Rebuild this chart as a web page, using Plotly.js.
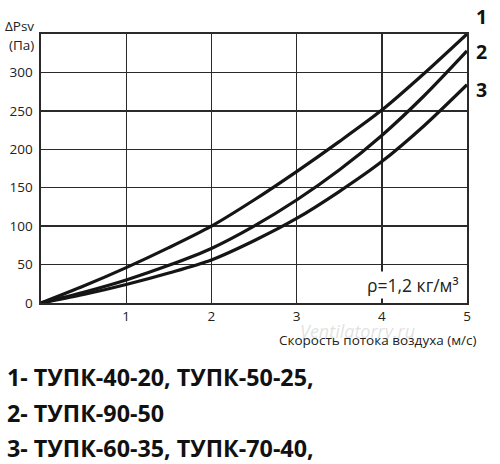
<!DOCTYPE html>
<html>
<head>
<meta charset="utf-8">
<script src="https://cdn.plot.ly/plotly-3.0.1.min.js"></script>
<style>html,body{margin:0;padding:0;background:#fff;}#chart{width:500px;height:464px;}</style>
</head>
<body>
<div id="chart"></div>
<script>
// Data
var velocity = [0, 0.5, 1, 1.5, 2, 2.5, 3, 3.5, 4, 4.5, 5];
var curve1 = [0, 22, 46, 72, 100, 134, 171, 210, 251, 299, 350];
var curve2 = [0, 14, 30, 49, 71, 100, 134, 173, 218, 270, 328];
var curve3 = [0, 11, 24, 39, 56, 81, 110, 145, 184, 231, 284];
var curveNames = ['1', '2', '3'];
var xTickVals = [1, 2, 3, 4, 5];
var yTickVals = [0, 50, 100, 150, 200, 250, 300];
var legendLines = ['1- ТУПК-40-20, ТУПК-50-25,', '2- ТУПК-90-50', '3- ТУПК-60-35, ТУПК-70-40,'];

var L = 40.7, R = 466.7, T = 34.3, B = 303.3;
var W = R - L, H = B - T;
function px(x) { return (x - L) / W; }
function py(y) { return (B - y) / H; }

var series = [curve1, curve2, curve3];
var traces = series.map(function (s, i) {
  return {
    x: velocity, y: s, type: 'scatter', mode: 'lines', name: curveNames[i],
    line: {color: '#151515', width: 3.2, shape: 'spline', smoothing: 0.8},
    hoverinfo: 'skip'
  };
});

var font = 'Open Sans, Liberation Sans, sans-serif';
var ann = [];
function txt(t, x, y, opts) {
  var a = {text: t, xref: 'paper', yref: 'paper', x: px(x), y: py(y), showarrow: false,
    xanchor: 'center', yanchor: 'middle', font: {family: font, size: 13, color: '#222'}};
  for (var k in opts) a[k] = opts[k];
  ann.push(a);
}
txt('<i>Ventilatorry.ru</i>', 357, 331, {font: {family: font, size: 18, color: 'rgba(190,190,190,0.45)'}});
txt('ΔPsv', 36, 26, {xanchor: 'right', font: {family: font, size: 13.5, color: '#222'}});
txt('(Па)', 36, 45.5, {xanchor: 'right', font: {family: font, size: 13.5, color: '#222'}});
txt('Скорость потока воздуха (м/с)', 378, 340, {font: {family: font, size: 13.5, color: '#222'}});
txt('ρ=1,2 кг/м³', 412.5, 285, {font: {family: font, size: 17.5, color: '#222'}, bgcolor: '#fff', borderpad: 1});
var labelY = [16.5, 51.5, 89.5];
curveNames.forEach(function (n, i) {
  txt('<b>' + n + '</b>', 481, labelY[i], {font: {family: font, size: 19.5, color: '#111'}});
});
var lineY = [377, 413, 448];
legendLines.forEach(function (t, i) {
  txt('<b>' + t + '</b>', 5, lineY[i], {xanchor: 'left', font: {family: font, size: 23.3, color: '#111'}});
});

var axisCommon = {
  showgrid: true, gridcolor: '#2a2a2a', gridwidth: 1.4,
  showline: true, linecolor: '#2a2a2a', linewidth: 1.6, mirror: true,
  zeroline: false, ticks: '', tickfont: {family: font, size: 13.5, color: '#222'},
  fixedrange: true
};
var layout = {
  width: 500, height: 464,
  margin: {l: L, r: 500 - R, t: T, b: 464 - B, pad: 0},
  paper_bgcolor: '#fff', plot_bgcolor: '#fff',
  showlegend: false,
  xaxis: Object.assign({}, axisCommon, {range: [0, 5], tickmode: 'array', tickvals: xTickVals, ticktext: xTickVals.map(String)}),
  yaxis: Object.assign({}, axisCommon, {range: [0, 350], tickmode: 'array', tickvals: yTickVals, ticktext: yTickVals.map(String), ticklabelstandoff: 4}),
  annotations: ann
};
Plotly.newPlot('chart', traces, layout, {displayModeBar: false, staticPlot: true});
</script>
</body>
</html>
